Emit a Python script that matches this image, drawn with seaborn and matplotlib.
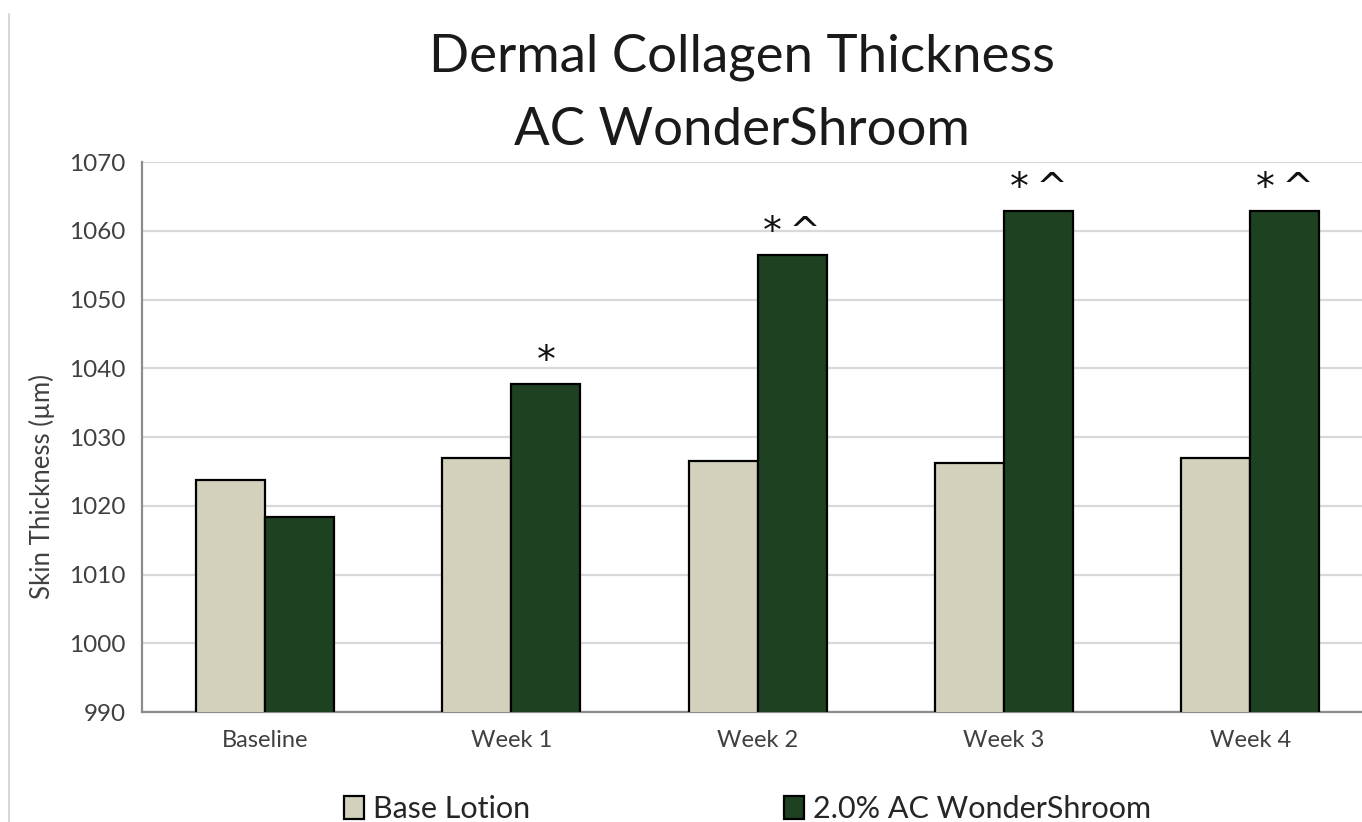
import numpy as np
import pandas as pd
import matplotlib
matplotlib.use("Agg")
import matplotlib.pyplot as plt
import seaborn as sns

# ---- data ----
timepoints = ["Baseline", "Week 1", "Week 2", "Week 3", "Week 4"]
base_lotion = [1023.7, 1026.9, 1026.5, 1026.2, 1026.9]
wondershroom = [1018.4, 1037.7, 1056.5, 1062.9, 1062.9]
sig_marks = ["", "*", "*^", "*^", "*^"]
series_names = ["Base Lotion", "2.0% AC WonderShroom"]
y_ticks = [990, 1000, 1010, 1020, 1030, 1040, 1050, 1060, 1070]

df = pd.DataFrame({
    "Time": timepoints * 2,
    "Thickness": base_lotion + wondershroom,
    "Group": [series_names[0]] * len(timepoints) + [series_names[1]] * len(timepoints),
})

sns.set_style("white")
plt.rcParams["font.family"] = ["Lato", "DejaVu Sans"]

fig = plt.figure(figsize=(13.62, 8.22), dpi=100)
ax = fig.add_axes([0.1043, 0.1338, 0.904, 0.669])

palette = {series_names[0]: "#D3D1BC", series_names[1]: "#1E4221"}
sns.barplot(data=df, x="Time", y="Thickness", hue="Group", palette=palette,
            width=0.56, edgecolor="black", linewidth=1.6, saturation=1,
            ax=ax, legend=True, zorder=3)

ax.set_ylim(990, 1070)
ax.set_yticks(y_ticks)
ax.set_xlim(-0.5, len(timepoints) - 0.5)
ax.grid(axis="y", color="#D9D9D9", linewidth=1.6, zorder=0)
ax.set_axisbelow(True)

for s in ["top", "right"]:
    ax.spines[s].set_visible(False)
for s in ["left", "bottom"]:
    ax.spines[s].set_color("#8C8C8C")
    ax.spines[s].set_linewidth(1.6)

ax.tick_params(axis="y", length=6, width=1.4, color="#8C8C8C",
               labelsize=17.5, labelcolor="#404040", pad=6)
ax.tick_params(axis="x", length=0, labelsize=17, labelcolor="#404040", pad=13)
ax.set_xlabel("")
ax.set_ylabel("Skin Thickness (µm)", fontsize=18.5, color="#404040")
ax.yaxis.set_label_coords(-0.071, 0.41)

# significance marks above the WonderShroom bars
for bar, mark in zip(ax.containers[1], sig_marks):
    if mark:
        ax.text(bar.get_x() + bar.get_width() / 2, bar.get_height() + 0.6,
                mark.replace("^", "\u2009^"), ha="center", va="bottom",
                fontsize=27, color="#111111", family=["DejaVu Sans"])

fig.text(0.545, 0.9307, "Dermal Collagen Thickness", ha="center", va="center",
         fontsize=38, color="#1a1a1a")
fig.text(0.545, 0.8418, "AC WonderShroom", ha="center", va="center",
         fontsize=38, color="#1a1a1a")

handles, labels = ax.get_legend_handles_labels()
ax.get_legend().remove()
for h in handles:
    h.set_linewidth(1.6)
fig.legend(handles, labels, loc="center", bbox_to_anchor=(0.549, 0.016), ncol=2,
           frameon=False, fontsize=22, handlelength=0.65, handleheight=0.8,
           handletextpad=0.3, columnspacing=8.3, labelcolor="#262626")

# thin border line at the left edge of the image
fig.add_artist(plt.Line2D([0.0066, 0.0066], [0, 0.983], color="#D0D0D0",
                          linewidth=1.2, transform=fig.transFigure))

fig.savefig("out.png", dpi=100)
